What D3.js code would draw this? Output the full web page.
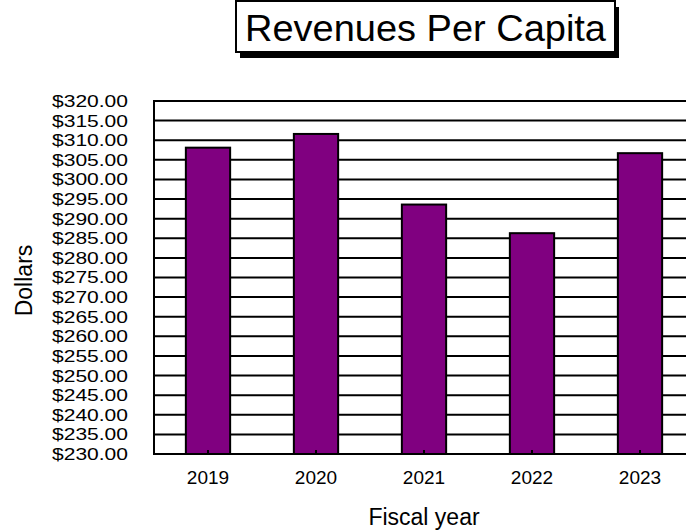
<!DOCTYPE html>
<html>
<head>
<meta charset="utf-8">
<script src="https://cdn.jsdelivr.net/npm/d3@7"></script>
<style>
  html, body { margin: 0; padding: 0; background: #fff; overflow: hidden; }
  svg { display: block; font-family: "Liberation Sans", Arial, sans-serif; }
</style>
</head>
<body>
<svg id="chart" width="686" height="532"></svg>
<script>
// Fiscal years and revenue per capita (dollars)
const years = ["2019", "2020", "2021", "2022", "2023"];
const revenues = [308.1, 311.6, 293.6, 286.3, 306.7];
// Y axis tick values, every $5 from $230 to $320
const yTicks = d3.range(230, 320.001, 5);
const titleText = "Revenues Per Capita";
const xTitle = "Fiscal year";
const yTitle = "Dollars";

const svg = d3.select("#chart");
const plot = { left: 154, top: 101, bottom: 454, band: 108 };
const plotRight = plot.left + plot.band * years.length;

const x = d3.scaleBand()
  .domain(years)
  .range([plot.left, plotRight])
  .paddingInner(0.59)
  .paddingOuter(0.295);

const y = d3.scaleLinear()
  .domain([230, 320])
  .range([plot.bottom, plot.top]);

const fmt = v => "$" + d3.format(".2f")(v);

// Title box with drop shadow
const tb = { x: 236, y: 1, w: 379, h: 51 };
svg.append("rect")
  .attr("x", tb.x + 4).attr("y", tb.y + 6)
  .attr("width", tb.w).attr("height", tb.h)
  .attr("fill", "#000");
svg.append("rect")
  .attr("x", tb.x).attr("y", tb.y)
  .attr("width", tb.w).attr("height", tb.h)
  .attr("fill", "#fff").attr("stroke", "#000").attr("stroke-width", 2);
svg.append("text")
  .attr("x", tb.x + tb.w / 2).attr("y", 41)
  .attr("text-anchor", "middle")
  .attr("font-size", 37)
  .attr("textLength", 361).attr("lengthAdjust", "spacingAndGlyphs")
  .text(titleText);

// Horizontal gridlines, one per tick
svg.append("g")
  .selectAll("line")
  .data(yTicks)
  .join("line")
  .attr("x1", plot.left).attr("x2", 686)
  .attr("y1", d => y(d)).attr("y2", d => y(d))
  .attr("stroke", "#000").attr("stroke-width", 2);

// Y axis (labels only; the left border is drawn separately)
const yAxis = svg.append("g")
  .attr("transform", `translate(${plot.left},0)`)
  .call(d3.axisLeft(y).tickValues(yTicks).tickFormat(fmt).tickSize(0).tickPadding(26));
yAxis.select(".domain").remove();
yAxis.selectAll("text")
  .attr("font-size", 17)
  .attr("font-family", "Liberation Sans, Arial, sans-serif")
  .attr("fill", "#000")
  .attr("textLength", 76).attr("lengthAdjust", "spacingAndGlyphs");

// Bars
svg.append("g")
  .selectAll("rect")
  .data(years.map((yr, i) => ({ yr, v: revenues[i] })))
  .join("rect")
  .attr("x", d => x(d.yr))
  .attr("y", d => y(d.v))
  .attr("width", x.bandwidth())
  .attr("height", d => y(230) - y(d.v))
  .attr("fill", "#800080")
  .attr("stroke", "#000").attr("stroke-width", 2);

// X axis with short inward ticks at bar centres
const xAxis = svg.append("g")
  .attr("transform", `translate(0,${plot.bottom})`)
  .call(d3.axisBottom(x).tickSize(-4).tickPadding(17));
xAxis.select(".domain").remove();
xAxis.selectAll("line").attr("stroke", "#000").attr("stroke-width", 2);
xAxis.selectAll("text")
  .attr("font-size", 19)
  .attr("font-family", "Liberation Sans, Arial, sans-serif")
  .attr("fill", "#000");

// Plot frame: left and bottom edges
svg.append("line")
  .attr("x1", plot.left).attr("x2", plot.left)
  .attr("y1", plot.top - 1).attr("y2", plot.bottom + 1)
  .attr("stroke", "#000").attr("stroke-width", 2);
svg.append("line")
  .attr("x1", plot.left - 1).attr("x2", 686)
  .attr("y1", plot.bottom).attr("y2", plot.bottom)
  .attr("stroke", "#000").attr("stroke-width", 2);

// Axis titles
svg.append("text")
  .attr("x", (plot.left + plotRight) / 2).attr("y", 525)
  .attr("text-anchor", "middle")
  .attr("font-size", 23)
  .text(xTitle);
svg.append("text")
  .attr("transform", `translate(32,${(plot.top + plot.bottom) / 2 + 3}) rotate(-90)`)
  .attr("text-anchor", "middle")
  .attr("font-size", 23)
  .text(yTitle);
</script>
</body>
</html>
